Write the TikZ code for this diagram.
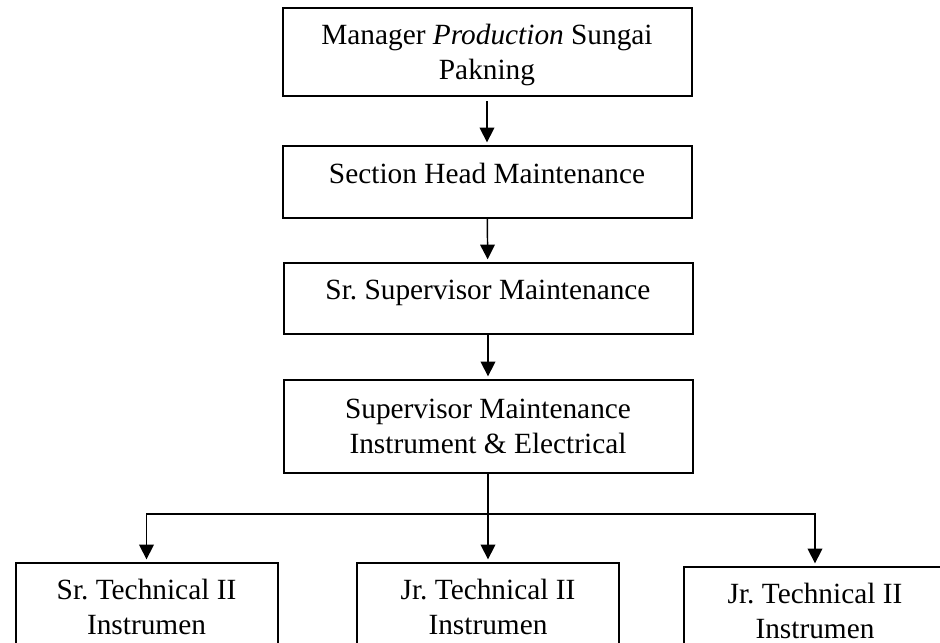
\documentclass[tikz,border=0pt]{standalone}
\usepackage{fontspec}
\setmainfont{Liberation Serif}
\usetikzlibrary{arrows.meta}
\frenchspacing

\tikzset{
  unit/.style={draw, line width=1.5pt, inner sep=0pt, align=center, minimum width=306.75pt, text height=27pt, font=\fontsize{22pt}{26.25pt}\selectfont},
  staff/.style={unit, minimum width=196.5pt, text height=53.25pt, text depth=30pt},
  link/.style={line width=1.1pt, -{Triangle[length=11pt,width=11pt]}, shorten >=2pt},
}

\begin{document}
\begin{tikzpicture}[x=0.75pt,y=0.75pt,yscale=-1]
\clip (0,0) rectangle (940,643);

%Shape: Rectangle [Manager]
\draw (487,7) node (mgr) [anchor=north][unit, text height=53.25pt, text depth=12.75pt] {Manager \textit{Production} Sungai\\Pakning};
%Shape: Rectangle [Section Head]
\draw (487,145) node (head) [anchor=north][unit, text height=27.75pt, text depth=26.25pt] {Section Head Maintenance};
%Shape: Rectangle [Sr. Supervisor]
\draw (488,262) node (srsup) [anchor=north][unit, text depth=26.25pt] {Sr. Supervisor Maintenance};
%Shape: Rectangle [Supervisor]
\draw (488,379) node (sup) [anchor=north][unit, text height=54.75pt, text depth=15pt] {Supervisor Maintenance\\Instrument \& Electrical};

%Shape: Rectangle [Technical]
\draw (146.5,562) node (srtech) [anchor=north][staff] {Sr. Technical II\\Instrumen};
\draw (488,562) node (jrtech) [anchor=north][staff] {Jr. Technical II\\Instrumen};
\draw (815,566) node (jrtechb) [anchor=north][staff] {Jr. Technical II\\Instrumen};

%Straight Lines [with arrows]
\draw [link, shorten <=3pt] (mgr) -- (head);
\draw [link] (head) -- (srsup);
\draw [link] (srsup) -- (sup);

\coordinate (bar) at (0,514);
\draw [link] (sup.south) -- (sup.south |- jrtech.north);
\draw [link] (sup.south |- bar) -| (srtech.north);
\draw [link] (sup.south |- bar) -| (jrtechb.north);

\end{tikzpicture}
\end{document}
